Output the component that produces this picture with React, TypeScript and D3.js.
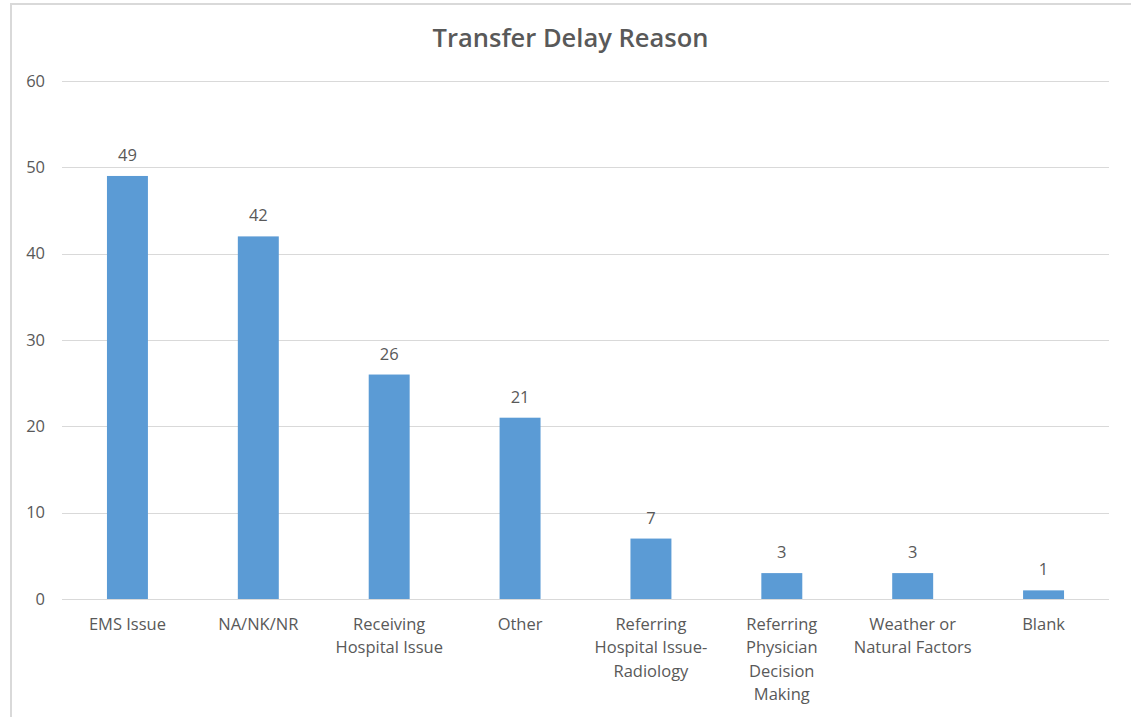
import React from "react";
import * as d3 from "d3";

const categories = [
  "EMS Issue",
  "NA/NK/NR",
  "Receiving\nHospital Issue",
  "Other",
  "Referring\nHospital Issue-\nRadiology",
  "Referring\nPhysician\nDecision\nMaking",
  "Weather or\nNatural Factors",
  "Blank",
];
const values = [49, 42, 26, 21, 7, 3, 3, 1];
const yTicks = [0, 10, 20, 30, 40, 50, 60];
const title = "Transfer Delay Reason";

const W = 1131;
const H = 717;
const FONT = "'Open Sans', sans-serif";
const TXT = "#595959";

export default function App() {
  const x = d3
    .scaleBand<string>()
    .domain(categories)
    .range([62, 1109])
    .paddingInner(0.687)
    .paddingOuter(0.3435);
  const y = d3.scaleLinear().domain([0, 60]).range([599, 81]);

  return (
    <svg
      width={W}
      height={H}
      style={{ position: "absolute", left: 0, top: 0 }}
      fontFamily={FONT}
    >
      <rect x={0} y={0} width={W} height={H} fill="#fff" />
      <rect x={11} y={4} width={W + 20} height={H + 20} fill="#fff" stroke="#d9d9d9" strokeWidth={2} />
      <text
        x={570.5}
        y={47}
        textAnchor="middle"
        fontSize={25.5}
        fontWeight={600}
        fill={TXT}
      >
        {title}
      </text>
      {yTicks.map((t) => (
        <g key={t}>
          <line
            x1={62}
            x2={1109}
            y1={Math.round(y(t)) + 0.5}
            y2={Math.round(y(t)) + 0.5}
            stroke="#d9d9d9"
            strokeWidth={1}
          />
          <text
            x={45}
            y={y(t)}
            dy="0.35em"
            textAnchor="end"
            fontSize={16.5}
            fill={TXT}
          >
            {t}
          </text>
        </g>
      ))}
      {categories.map((c, i) => {
        const bx = x(c)!;
        const bw = x.bandwidth();
        const cx = bx + bw / 2;
        const lines = c.split("\n");
        return (
          <g key={c}>
            <rect
              x={bx}
              y={y(values[i])}
              width={bw}
              height={y(0) - y(values[i])}
              fill="#5b9bd5"
            />
            <text
              x={cx}
              y={y(values[i]) - 15}
              textAnchor="middle"
              fontSize={16.5}
              fill={TXT}
            >
              {values[i]}
            </text>
            {lines.map((l, j) => (
              <text
                key={j}
                x={cx}
                y={630 + j * 23.3}
                textAnchor="middle"
                fontSize={16.5}
                fill={TXT}
              >
                {l}
              </text>
            ))}
          </g>
        );
      })}
      <line x1={62} x2={1109} y1={599.5} y2={599.5} stroke="#d9d9d9" strokeWidth={1} />
    </svg>
  );
}
